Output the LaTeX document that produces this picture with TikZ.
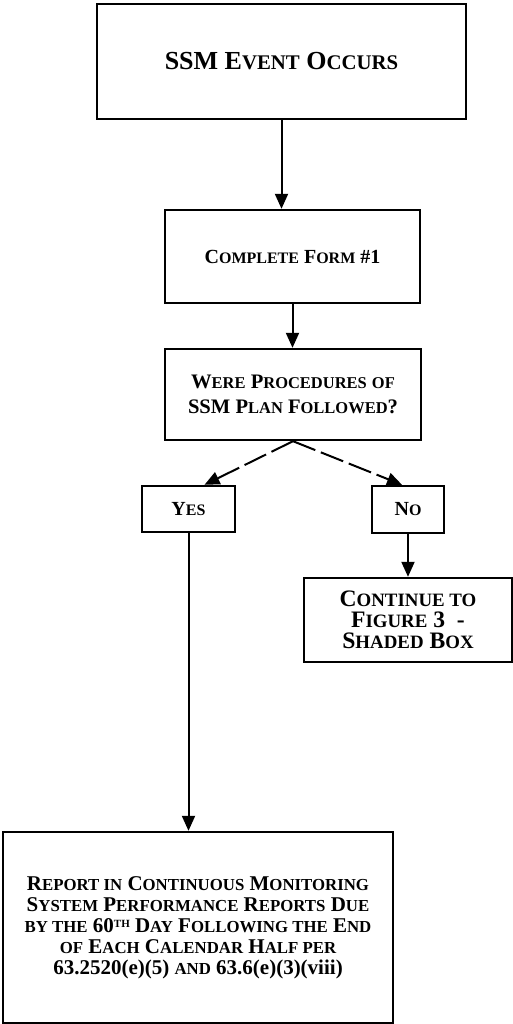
\documentclass[tikz,border=0pt]{standalone}
\usepackage{fontspec}
\setmainfont{Liberation Serif}
\usetikzlibrary{arrows.meta}
\makeatletter
\newcommand\lcaps[1]{{\@tempdima=\f@size pt\@tempdima=0.8\@tempdima
  \fontsize{\strip@pt\@tempdima}{\f@baselineskip}\selectfont\MakeUppercase{#1}}}
\makeatother
\newcommand\supth{\raisebox{0.45ex}{\fontsize{5.5}{5.5}\selectfont TH}}
\tikzset{
  box/.style={draw,rectangle,line width=1.2pt,align=center,inner sep=0pt,
    font=\bfseries\fontsize{10}{12.5}\selectfont},
  arr/.style={line width=1pt,-{Triangle[width=6.5pt,length=7.5pt]}},
  dashedarr/.style={arr,dash pattern=on 12pt off 3pt}
}
\begin{document}
\begin{tikzpicture}[x=0.5pt,y=-0.5pt]
    \useasboundingbox (0,0) rectangle (513,1024);
    \node[box,minimum width=184.5pt,minimum height=57.5pt,font=\bfseries\fontsize{13}{15}\selectfont] (start) at (281.5,61.5) {SSM E\lcaps{vent} O\lcaps{ccurs}};
    \node[box,minimum width=127.5pt,minimum height=46.5pt] (form) at (292.5,256.5) {C\lcaps{omplete} F\lcaps{orm} \#1};
    \node[box,minimum width=128pt,minimum height=45.5pt,font=\bfseries\fontsize{10.3}{12.5}\selectfont] (decide) at (293,394.5) {W\lcaps{ere} P\lcaps{rocedures} \lcaps{of}\\SSM P\lcaps{lan} F\lcaps{ollowed}?};
    \node[box,minimum width=46.5pt,minimum height=23pt] (yes) at (188.5,509) {Y\lcaps{es}};
    \node[box,minimum width=36pt,minimum height=23.5pt] (no) at (408,509.5) {N\lcaps{o}};
    \node[box,minimum width=104pt,minimum height=42pt,font=\bfseries\fontsize{11.8}{10.5}\selectfont] (cont) at (408,620) {C\lcaps{ontinue to}\\F\lcaps{igure} 3\ \ -\\S\lcaps{haded} B\lcaps{ox}};
    \node[box,minimum width=195pt,minimum height=95.5pt,font=\bfseries\fontsize{10.5}{10.5}\selectfont] (report) at (198,927.5) {R\lcaps{eport in} C\lcaps{ontinuous} M\lcaps{onitoring}\\
      S\lcaps{ystem} P\lcaps{erformance} R\lcaps{eports} D\lcaps{ue}\\
      \lcaps{by the} 60\supth{} D\lcaps{ay} F\lcaps{ollowing the} E\lcaps{nd}\\
      \lcaps{of} E\lcaps{ach} C\lcaps{alendar} H\lcaps{alf per}\\
      63.2520(e)(5) \lcaps{and} 63.6(e)(3)(viii)};

    \draw[arr] (start.south) -- (start.south |- form.north);
    \draw[arr] (form.south) -- (form.south |- decide.north);
    \draw[dashedarr] (decide.south) -- ([xshift=8pt]yes.north);
    \draw[dashedarr] (decide.south) -- ([xshift=-3pt]no.north);
    \draw[arr] (yes) -- (yes |- report.north);
    \draw[arr] (no) -- (cont);
\end{tikzpicture}
\end{document}
